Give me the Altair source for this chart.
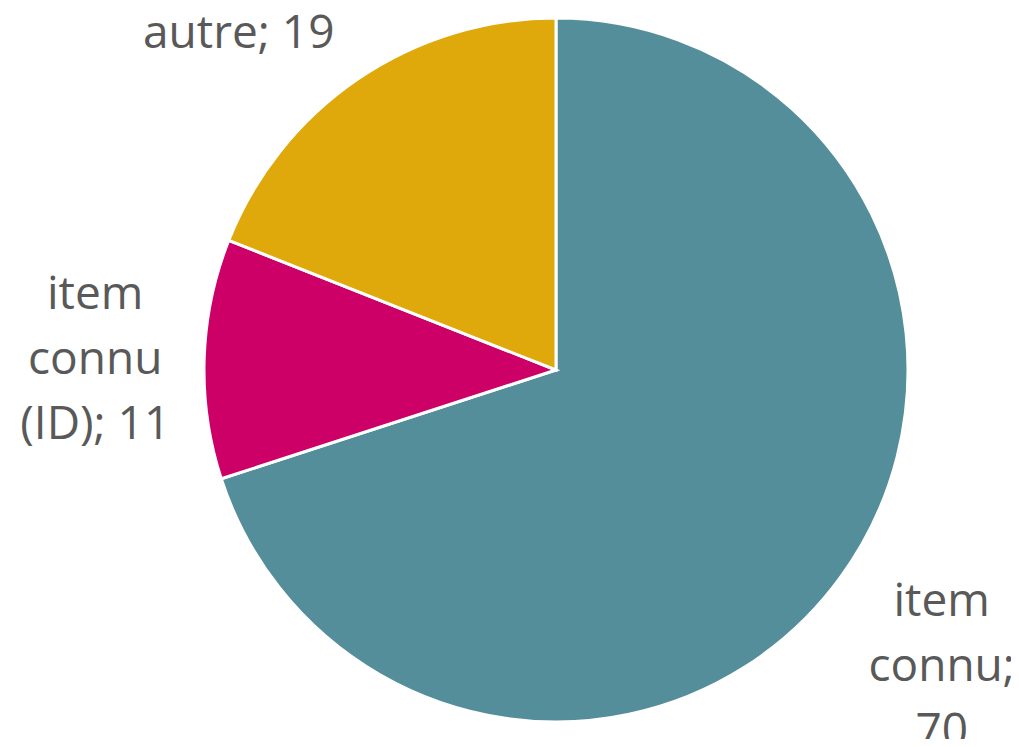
import altair as alt
import pandas as pd

categories = ["item connu", "item connu (ID)", "autre"]
values = [70, 11, 19]
labels = ["item\nconnu;\n70", "item\nconnu\n(ID); 11", "autre; 19"]
colors = ["#558E9B", "#CC0066", "#DFA90B"]

df = pd.DataFrame({
    "cat": categories,
    "val": values,
    "label": labels,
    "idx": list(range(len(categories))),
})

CX, CY, R = 548, 362, 352

base = alt.Chart(df).encode(
    theta=alt.Theta("val:Q", stack=True),
    order=alt.Order("idx:Q", sort="ascending"),
    x=alt.value(CX),
    y=alt.value(CY),
)

pie = base.mark_arc(outerRadius=R, stroke="white", strokeWidth=3).encode(
    color=alt.Color("cat:N", scale=alt.Scale(domain=categories, range=colors), legend=None),
)

def label_layer(cat, radius, dx, dy):
    return base.mark_text(
        radius=radius, dx=dx, dy=dy, font="Open Sans", fontSize=46,
        color="#595959", lineBreak="\n", lineHeight=65,
        align="center", baseline="middle",
    ).encode(
        text=alt.condition(alt.datum.cat == cat, "label:N", alt.value(""))
    )

chart = alt.layer(
    pie,
    label_layer("item connu", 478, -1, -49),
    label_layer("item connu (ID)", 461, 0, -61),
    label_layer("autre", 463, -57, 47),
).properties(
    width=1003, height=731, padding=0,
    autosize=alt.AutoSizeParams(type="none"),
).configure_view(stroke=None)

chart.save("out.html", embed_options={"renderer": "svg", "actions": False})
